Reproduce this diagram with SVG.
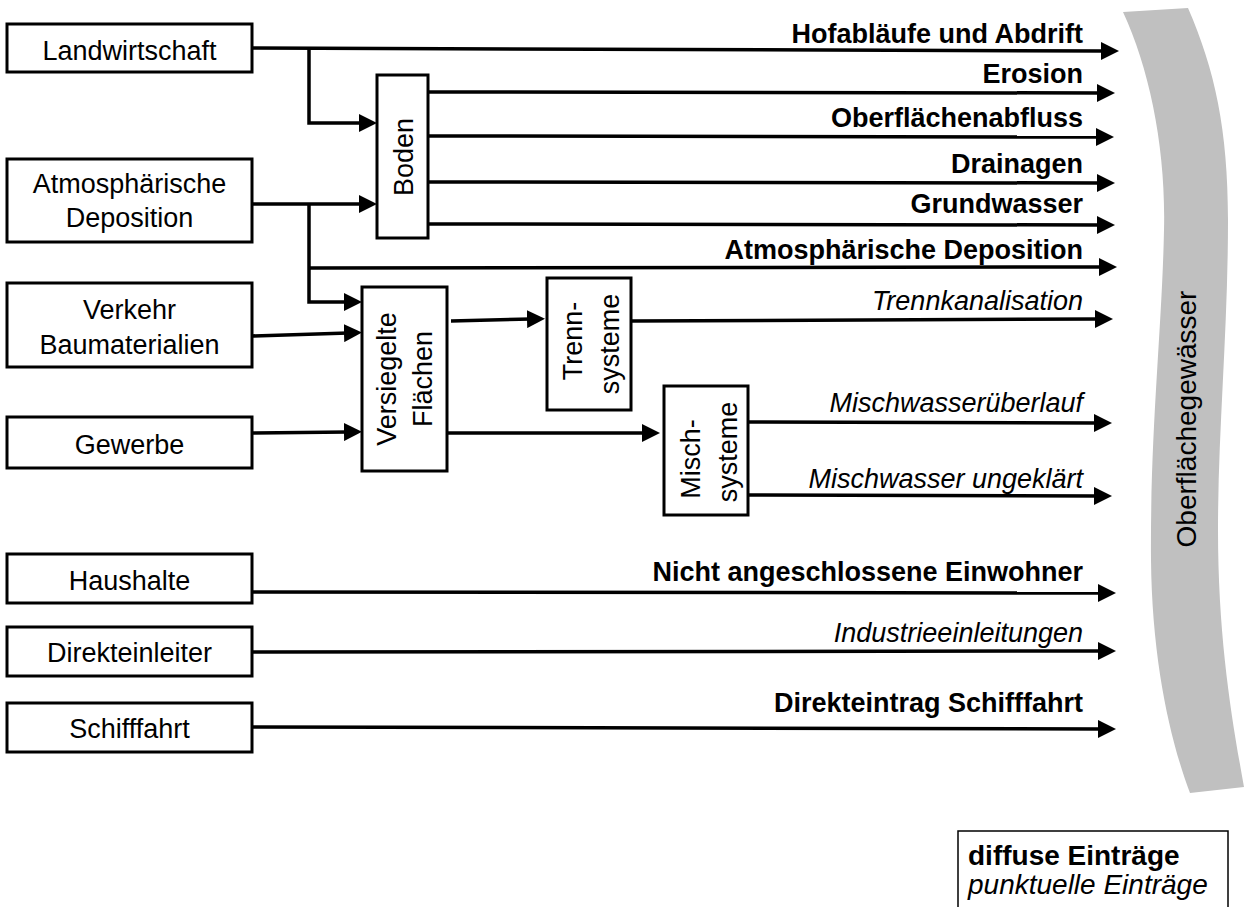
<svg xmlns="http://www.w3.org/2000/svg" width="1244" height="907" viewBox="0 0 1244 907">
  <style>
    text { font-family: "Liberation Sans", Arial, sans-serif; font-size: 27px; fill: #000; }
    .box { fill: #fff; stroke: #000; stroke-width: 3; }
    .c { text-anchor: middle; }
    .r { text-anchor: end; }
    .b { font-weight: bold; }
    .i { font-style: italic; }
    .edge { fill: none; stroke: #000; stroke-width: 3.5; marker-end: url(#arrow); }
    .water { fill: #c0c0c0; }
    .water-label { font-size: 28px; }
    .legend text { font-size: 28px; }
  </style>
  <defs>
    <marker id="arrow" viewBox="0 0 18 18" refX="4" refY="9" markerWidth="18" markerHeight="18" markerUnits="userSpaceOnUse" orient="auto">
      <path d="M0,0 L18,9 L0,18 Z" fill="#000"/>
    </marker>
  </defs>

  <rect width="1244" height="907" fill="#fff"/>

  <!-- receiving water body -->
  <g id="oberflaechengewaesser">
    <path class="water" d="M1123,12 C1150,70 1166,150 1164,230 C1162,330 1150,430 1151,560 C1152,660 1170,740 1190,793 L1244,787 C1232,720 1218,640 1218,530 C1218,430 1228,330 1228,220 C1228,130 1215,70 1188,8 Z"/>
    <text class="c water-label" transform="translate(1196,419) rotate(-90)">Oberflächegewässer</text>
  </g>

  <!-- connectors -->
  <g id="connectors">
    <path class="edge" d="M252,48 L1105,51"/>
    <path class="edge" d="M309,48 L309,123 L363,123"/>
    <path class="edge" d="M252,204 L363,204"/>
    <path class="edge" d="M309,204 L309,302 L348,302"/>
    <path class="edge" d="M309,268 L1103,267"/>
    <path class="edge" d="M428,92 L1101,93"/>
    <path class="edge" d="M428,136 L1100,137"/>
    <path class="edge" d="M428,182 L1101,183"/>
    <path class="edge" d="M428,224 L1101,225"/>
    <path class="edge" d="M252,336 L348,333"/>
    <path class="edge" d="M252,433 L348,432"/>
    <path class="edge" d="M451,321 L531,319"/>
    <path class="edge" d="M631,321 L1099,319"/>
    <path class="edge" d="M447,433 L646,433"/>
    <path class="edge" d="M749,422 L1098,423"/>
    <path class="edge" d="M749,495 L1098,496"/>
    <path class="edge" d="M252,592 L1102,593"/>
    <path class="edge" d="M252,652 L1102,651"/>
    <path class="edge" d="M252,727 L1102,729"/>
  </g>

  <!-- connector labels -->
  <g id="labels">
    <text class="r b" x="1083" y="43">Hofabläufe und Abdrift</text>
    <text class="r b" x="1083" y="83">Erosion</text>
    <text class="r b" x="1083" y="127">Oberflächenabfluss</text>
    <text class="r b" x="1083" y="173">Drainagen</text>
    <text class="r b" x="1083" y="213">Grundwasser</text>
    <text class="r b" x="1083" y="259">Atmosphärische Deposition</text>
    <text class="r i" x="1083" y="310">Trennkanalisation</text>
    <text class="r i" x="1083" y="412">Mischwasserüberlauf</text>
    <text class="r i" x="1083" y="488">Mischwasser ungeklärt</text>
    <text class="r b" x="1083" y="581">Nicht angeschlossene Einwohner</text>
    <text class="r i" x="1083" y="642">Industrieeinleitungen</text>
    <text class="r b" x="1083" y="712">Direkteintrag Schifffahrt</text>
  </g>

  <!-- sources -->
  <g id="landwirtschaft">
    <rect class="box" x="7" y="24" width="245" height="48"/>
    <text class="c" x="129.5" y="60">Landwirtschaft</text>
  </g>
  <g id="atmosphaerische-deposition">
    <rect class="box" x="7" y="159" width="245" height="83"/>
    <text class="c" x="129.5" y="193">Atmosphärische</text>
    <text class="c" x="129.5" y="227">Deposition</text>
  </g>
  <g id="verkehr-baumaterialien">
    <rect class="box" x="7" y="283" width="245" height="84"/>
    <text class="c" x="129.5" y="319">Verkehr</text>
    <text class="c" x="129.5" y="354">Baumaterialien</text>
  </g>
  <g id="gewerbe">
    <rect class="box" x="7" y="417" width="245" height="51"/>
    <text class="c" x="129.5" y="454">Gewerbe</text>
  </g>
  <g id="haushalte">
    <rect class="box" x="7" y="554" width="245" height="49"/>
    <text class="c" x="129.5" y="590">Haushalte</text>
  </g>
  <g id="direkteinleiter">
    <rect class="box" x="7" y="627" width="245" height="49"/>
    <text class="c" x="129.5" y="662">Direkteinleiter</text>
  </g>
  <g id="schifffahrt">
    <rect class="box" x="7" y="703" width="245" height="49"/>
    <text class="c" x="129.5" y="738">Schifffahrt</text>
  </g>

  <!-- intermediate pathways -->
  <g id="boden">
    <rect class="box" x="377" y="75" width="51" height="163"/>
    <text class="c" transform="translate(413,157) rotate(-90)">Boden</text>
  </g>
  <g id="versiegelte-flaechen">
    <rect class="box" x="362" y="287" width="85" height="184"/>
    <text class="c" transform="translate(396,379) rotate(-90)">Versiegelte</text>
    <text class="c" transform="translate(432,379) rotate(-90)">Flächen</text>
  </g>
  <g id="trennsysteme">
    <rect class="box" x="547" y="278" width="84" height="132"/>
    <text class="c" transform="translate(582,341) rotate(-90)">Trenn-</text>
    <text class="c" transform="translate(619,344) rotate(-90)">systeme</text>
  </g>
  <g id="mischsysteme">
    <rect class="box" x="664" y="386" width="84" height="129"/>
    <text class="c" transform="translate(700,459) rotate(-90)">Misch-</text>
    <text class="c" transform="translate(737,452) rotate(-90)">systeme</text>
  </g>

  <!-- key -->
  <g id="legende" class="legend">
    <rect x="958" y="831" width="270" height="82" fill="#fff" stroke="#000" stroke-width="1.5"/>
    <text class="b" x="968" y="865">diffuse Einträge</text>
    <text class="i" x="968" y="894">punktuelle Einträge</text>
  </g>
</svg>
